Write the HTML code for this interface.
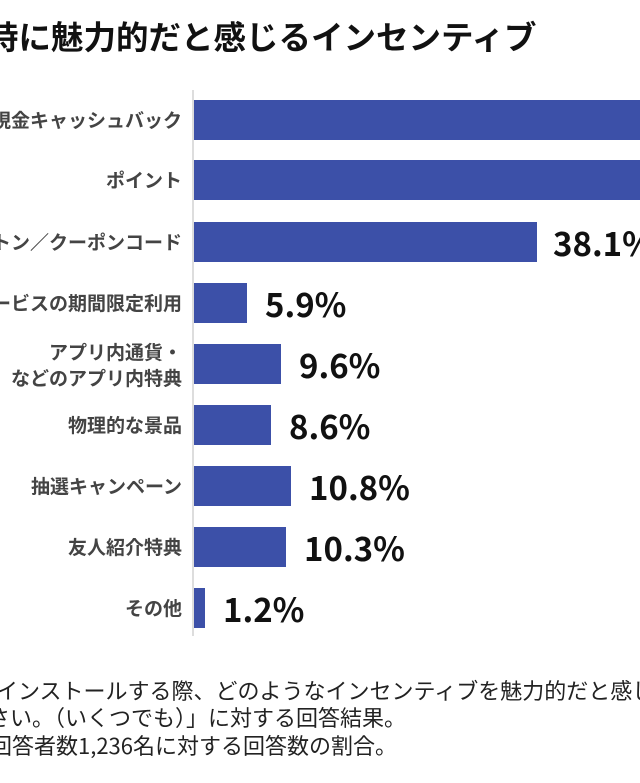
<!DOCTYPE html>
<html><head><meta charset="utf-8"><style>
body{margin:0;width:640px;height:783px;background:#fff;position:relative;overflow:hidden;font-family:"Liberation Sans","Noto Sans CJK JP",sans-serif;}
.t{position:absolute;white-space:nowrap;font-family:"Noto Sans CJK JP",sans-serif;}
.title{left:-14px;top:14px;font-size:32.5px;font-weight:700;color:#111;line-height:44px;}
.lab{right:458px;font-size:19px;font-weight:700;color:#444;text-align:right;line-height:26px;}
.bar{position:absolute;left:194px;height:40px;background:#3c50a8;}
.val{font-size:33px;font-weight:700;color:#111;line-height:40px;}
.axis{position:absolute;left:192px;top:90px;width:2px;height:546px;background:#ddd;}
.note{font-size:22px;color:#222;line-height:27px;}
</style></head><body>
<div class="t title">時に魅力的だと感じるインセンティブ</div>
<div class="axis"></div>

<div class="bar" style="top:100px;width:460px"></div>
<div class="t lab" style="top:107px">現金キャッシュバック</div>

<div class="bar" style="top:160px;width:460px"></div>
<div class="t lab" style="top:167px">ポイント</div>

<div class="bar" style="top:222px;width:343px"></div>
<div class="t lab" style="top:229px">デジタルギフトン／クーポンコード</div>
<div class="t val" style="left:553px;top:222px">38.1%</div>

<div class="bar" style="top:283px;width:53px"></div>
<div class="t lab" style="top:290px">サービスの期間限定利用</div>
<div class="t val" style="left:265px;top:283px">5.9%</div>

<div class="bar" style="top:344px;width:87px"></div>
<div class="t lab" style="top:339px">アプリ内通貨・<br>などのアプリ内特典</div>
<div class="t val" style="left:299px;top:344px">9.6%</div>

<div class="bar" style="top:405px;width:77px"></div>
<div class="t lab" style="top:412px">物理的な景品</div>
<div class="t val" style="left:289px;top:405px">8.6%</div>

<div class="bar" style="top:466px;width:97px"></div>
<div class="t lab" style="top:473px">抽選キャンペーン</div>
<div class="t val" style="left:309px;top:466px">10.8%</div>

<div class="bar" style="top:527px;width:92px"></div>
<div class="t lab" style="top:534px">友人紹介特典</div>
<div class="t val" style="left:304px;top:527px">10.3%</div>

<div class="bar" style="top:588px;width:11px"></div>
<div class="t lab" style="top:595px">その他</div>
<div class="t val" style="left:223px;top:588px">1.2%</div>

<div class="t note" style="left:-4px;top:677px">インストールする際、どのようなインセンティブを魅力的だと感じますか？</div>
<div class="t note" style="left:-12px;top:704px">さい。（いくつでも）」に対する回答結果。</div>
<div class="t note" style="left:-10px;top:732px">回答者数1,236名に対する回答数の割合。</div>
</body></html>
